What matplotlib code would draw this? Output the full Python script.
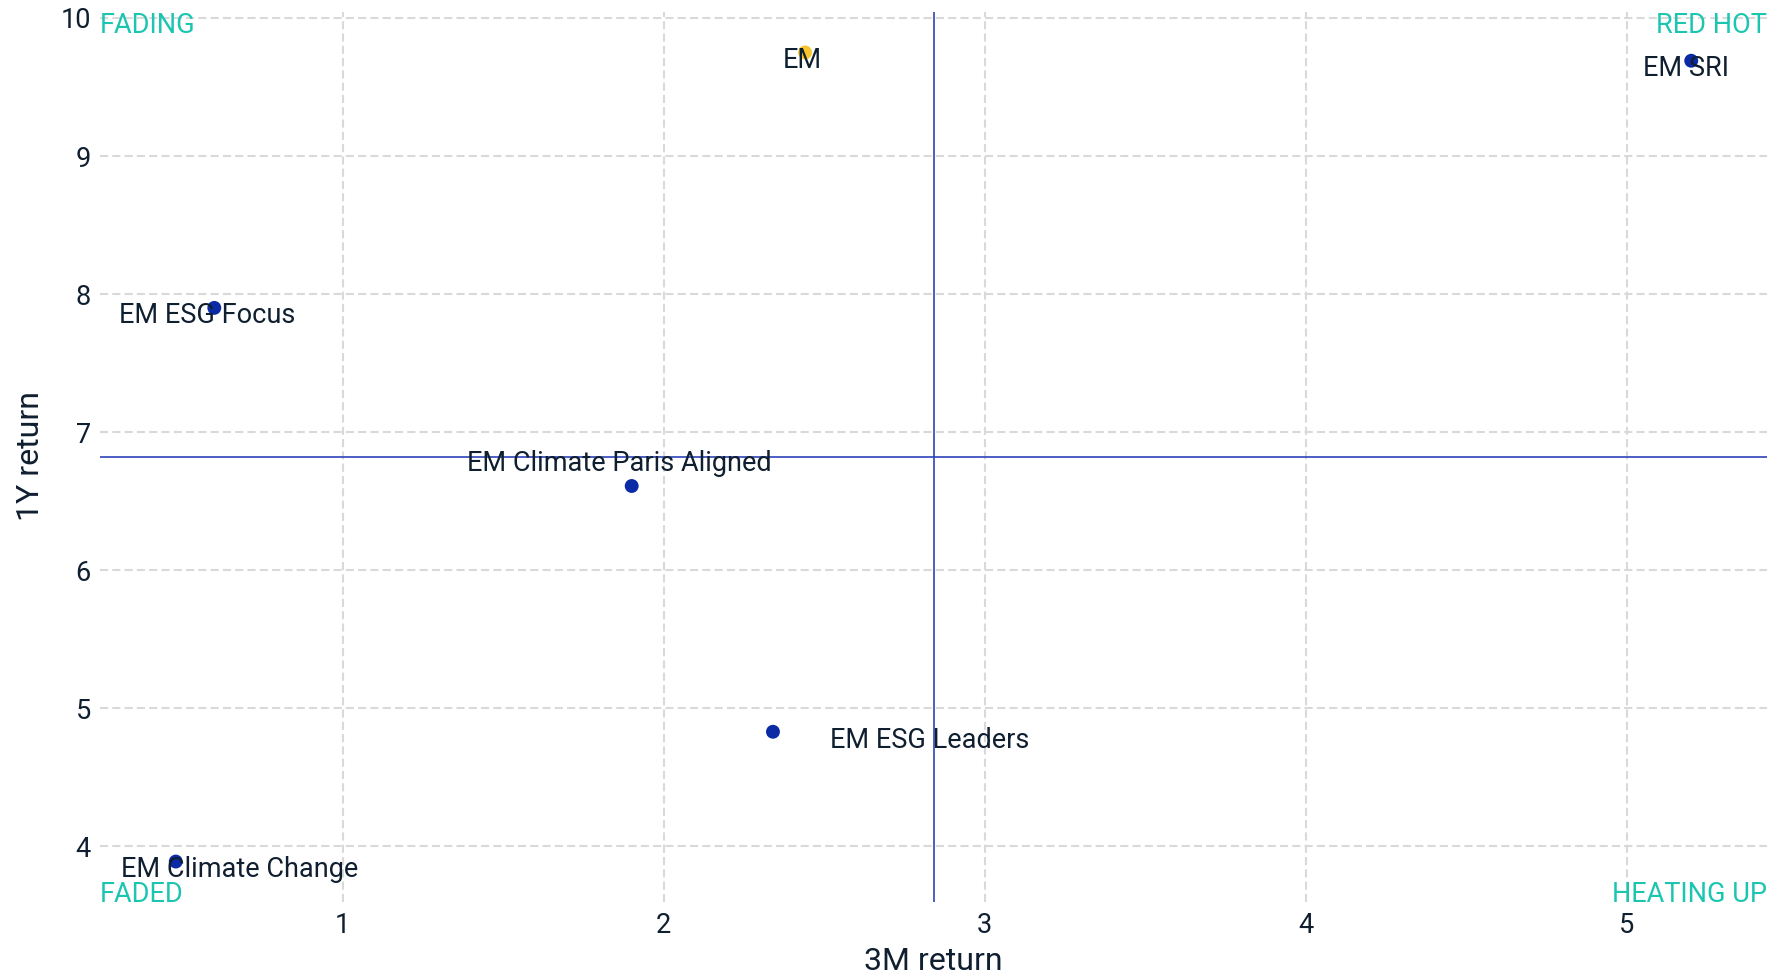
import matplotlib
matplotlib.use("Agg")
import matplotlib.pyplot as plt

# ------------------------------
# DATA
# ------------------------------
names = ["EM", "EM SRI", "EM ESG Focus", "EM Climate Paris Aligned",
         "EM ESG Leaders", "EM Climate Change"]
ret_3m = [2.44, 5.20, 0.60, 1.90, 2.34, 0.48]
ret_1y = [9.75, 9.69, 7.90, 6.61, 4.83, 3.89]
benchmark = "EM"

# label offsets in pixels (dx right, dy down to baseline)
label_offsets = {
    "EM": (-3, 16),
    "EM SRI": (-5, 15),
    "EM ESG Focus": (-7, 15),
    "EM Climate Paris Aligned": (-12, -15),
    "EM ESG Leaders": (157, 16),
    "EM Climate Change": (64, 15),
}

# ------------------------------
# STYLE
# ------------------------------
FONT = "Roboto"
TEXT_COLOR = "#0F1F30"
DOT_COLOR = "#0B2AA6"
BENCH_COLOR = "#F7C52B"
QUAD_COLOR = "#2E43B8"
TEAL = "#1BC5B0"
GRID_COLOR = "#D9D9D9"

plt.rcParams["font.family"] = [FONT, "DejaVu Sans"]

fig = plt.figure(figsize=(17.75, 9.77), dpi=100)
ax = fig.add_axes([100 / 1775, 1 - 902 / 977, 1667 / 1775, 890 / 977])

# axis ranges with 5% padding around the data
x_lo, x_hi = min(ret_3m), max(ret_3m)
y_lo, y_hi = min(ret_1y), max(ret_1y)
xpad = 0.05 * (x_hi - x_lo)
ypad = 0.05 * (y_hi - y_lo)
ax.set_xlim(x_lo - xpad, x_hi + xpad)
ax.set_ylim(y_lo - ypad, y_hi + ypad)

# grid
ax.set_xticks([1, 2, 3, 4, 5])
ax.set_yticks([4, 5, 6, 7, 8, 9, 10])
ax.grid(True, color=GRID_COLOR, linewidth=1.5, linestyle=(0, (3.9, 2.0)), zorder=0)
ax.set_axisbelow(True)
for s in ax.spines.values():
    s.set_visible(False)
ax.tick_params(length=0, labelsize=19.5, labelcolor=TEXT_COLOR)
ax.tick_params(axis="x", pad=7)
ax.tick_params(axis="y", pad=6.5)

# quadrant dividers at the middle of each range
x_mid = (x_lo + x_hi) / 2
y_mid = (y_lo + y_hi) / 2
ax.axvline(x_mid, color=QUAD_COLOR, linewidth=1.2, zorder=2)
ax.axhline(y_mid, color=QUAD_COLOR, linewidth=1.2, zorder=2)

# points
colors = [BENCH_COLOR if n == benchmark else DOT_COLOR for n in names]
ax.scatter(ret_3m, ret_1y, s=100, c=colors, edgecolors="none", zorder=3)

for n, x, y in zip(names, ret_3m, ret_1y):
    dx, dy = label_offsets[n]
    ax.annotate(n, (x, y), xytext=(dx, -dy), textcoords="offset pixels",
                ha="center", va="baseline", fontsize=19.5, color=TEXT_COLOR, zorder=4)

# quadrant names
qkw = dict(transform=ax.transAxes, fontsize=19.5, color=TEAL, zorder=4)
ax.text(0.0, 1.0, "FADING", ha="left", va="top", **qkw)
ax.text(1.0, 1.0, "RED HOT", ha="right", va="top", **qkw)
ax.text(0.0, 0.0, "FADED", ha="left", va="baseline", **qkw)
ax.text(1.0, 0.0, "HEATING UP", ha="right", va="baseline", **qkw)

# axis titles
fig.text(933.5 / 1775, 1 - 970 / 977, "3M return", ha="center", va="baseline",
         fontsize=23, color=TEXT_COLOR)
fig.text(30.5 / 1775, 1 - 456 / 977, "1Y return", ha="center", va="center",
         rotation=90, fontsize=23, color=TEXT_COLOR)

fig.savefig("out.png", dpi=100)
